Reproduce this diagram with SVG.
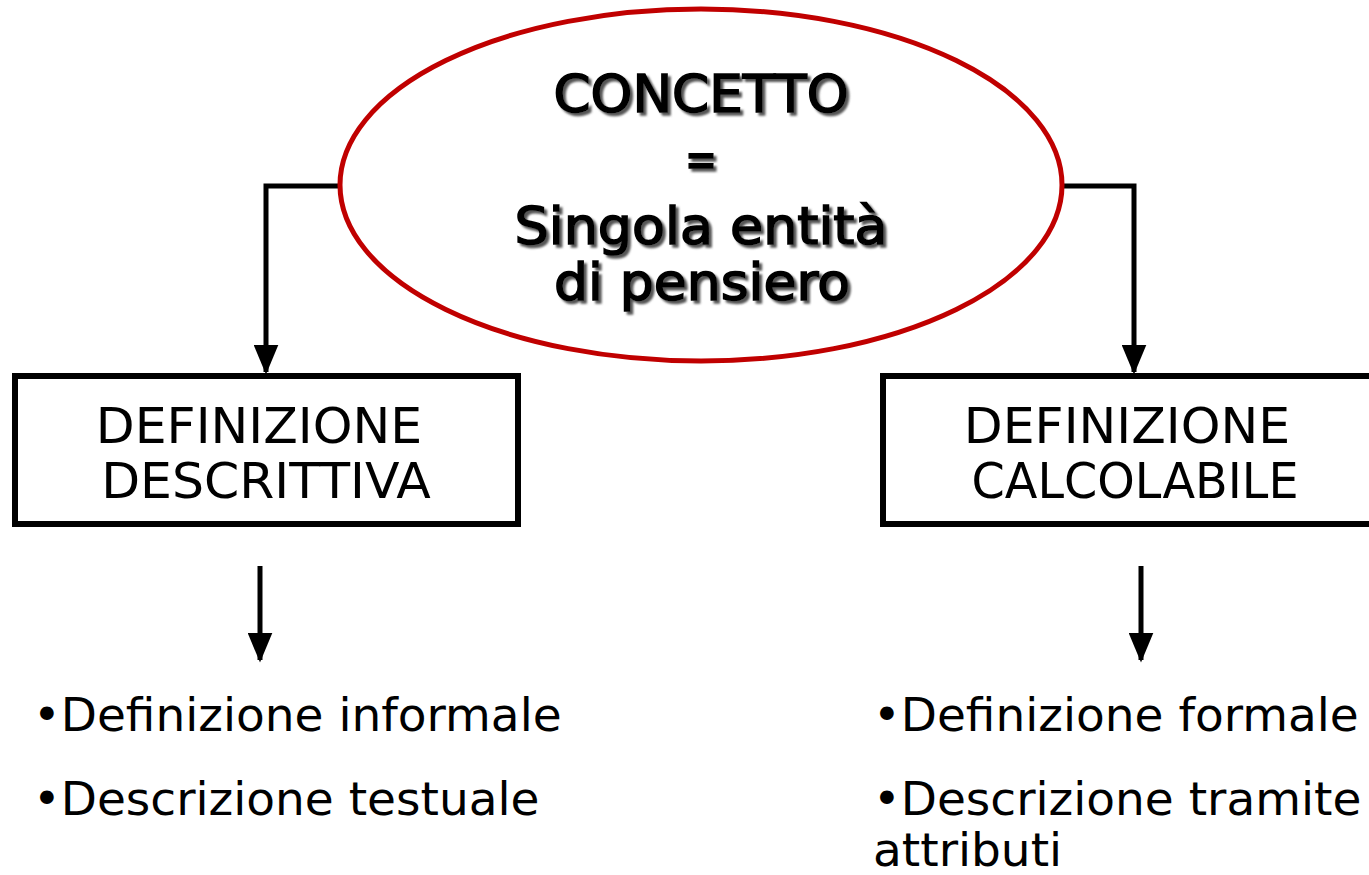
<svg xmlns="http://www.w3.org/2000/svg" width="1369" height="875" viewBox="0 0 1369 875">
<style>
.box{fill:#fff;stroke:#000;stroke-width:6}
.conn{fill:none;stroke:#000;stroke-width:5}
.bt{font-family:"DejaVu Sans",Verdana,sans-serif;font-size:50.5px;fill:#000;text-anchor:middle}
.li{font-family:"DejaVu Sans",Verdana,sans-serif;font-size:47px;fill:#000}
.et{font-family:"DejaVu Sans",Tahoma,sans-serif;font-size:52px;text-anchor:middle;fill:#000;stroke:#000;stroke-width:1.6}
</style>
<defs>
<marker id="ah" markerWidth="6" markerHeight="5" refX="5.5" refY="2.5" orient="auto" markerUnits="strokeWidth">
<path d="M0,0 L6,2.5 L0,5 Z" fill="#000"/>
</marker>
<filter id="sh" x="-10%" y="-10%" width="130%" height="140%">
<feGaussianBlur in="SourceAlpha" stdDeviation="1.2" result="b"/>
<feOffset in="b" dx="3" dy="3" result="o"/>
<feFlood flood-color="#555" result="c"/>
<feComposite in="c" in2="o" operator="in" result="s"/>
<feMerge><feMergeNode in="s"/><feMergeNode in="SourceGraphic"/></feMerge>
</filter>
</defs>
<g id="connectors">
<path class="conn" d="M340,186 H266 V372" marker-end="url(#ah)"/>
<path class="conn" d="M1062,186 H1134 V372" marker-end="url(#ah)"/>
<path class="conn" d="M260,566 V660" marker-end="url(#ah)"/>
<path class="conn" d="M1141,566 V660" marker-end="url(#ah)"/>
</g>
<g id="concetto">
<ellipse cx="701" cy="185" rx="361" ry="176" fill="#fff" stroke="#C00000" stroke-width="5"/>
<g filter="url(#sh)">
<text class="et" x="701" y="112" textLength="295" lengthAdjust="spacingAndGlyphs">CONCETTO</text>
<text class="et" x="701" y="177" textLength="32" lengthAdjust="spacingAndGlyphs">=</text>
<text class="et" x="701" y="244" textLength="373" lengthAdjust="spacingAndGlyphs">Singola entità</text>
<text class="et" x="702" y="300" textLength="296" lengthAdjust="spacingAndGlyphs">di pensiero</text>
</g>
</g>
<g id="descrittiva">
<rect class="box" x="15" y="376" width="503" height="148"/>
<text class="bt" x="259" y="443">DEFINIZIONE</text>
<text class="bt" x="266" y="498">DESCRITTIVA</text>
</g>
<g id="calcolabile">
<rect class="box" x="883" y="376" width="500" height="148"/>
<text class="bt" x="1127" y="443">DEFINIZIONE</text>
<text class="bt" x="1135" y="498" textLength="327" lengthAdjust="spacingAndGlyphs">CALCOLABILE</text>
</g>
<g id="lista-descrittiva">
<text class="li" x="33" y="731">•Definizione informale</text>
<text class="li" x="33" y="815">•Descrizione testuale</text>
</g>
<g id="lista-calcolabile">
<text class="li" x="873" y="731">•Definizione formale</text>
<text class="li" x="873" y="815">•Descrizione tramite</text>
<text class="li" x="873" y="866">attributi</text>
</g>
</svg>
